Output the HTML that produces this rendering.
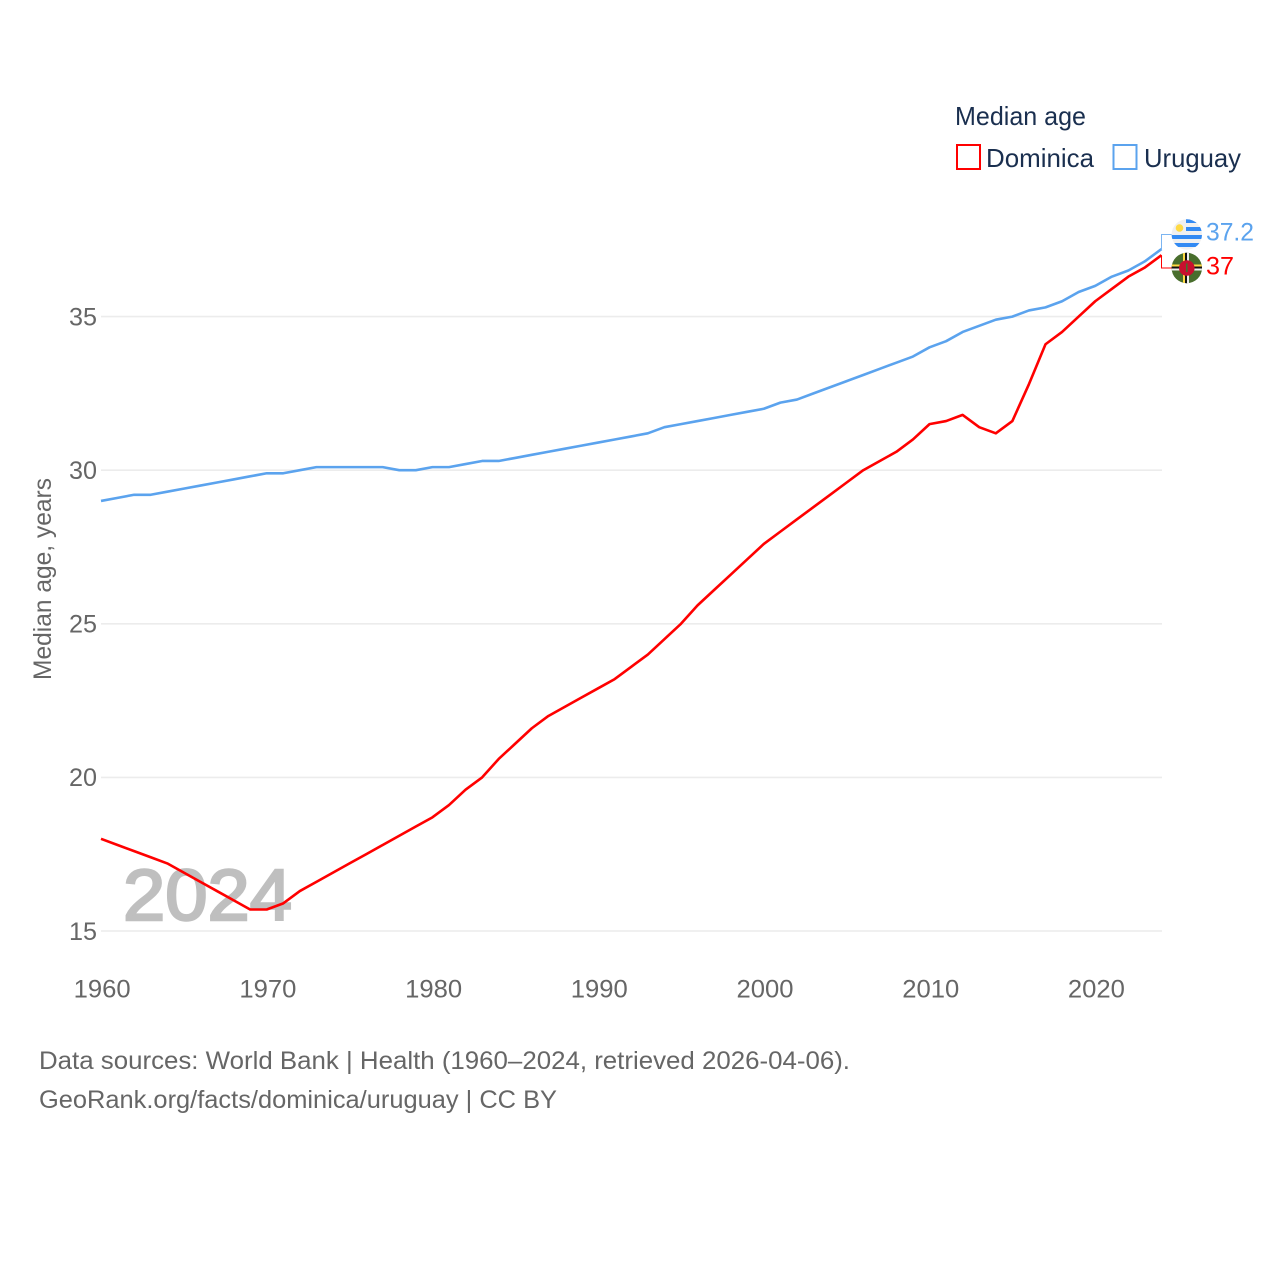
<!DOCTYPE html>
<html lang="en">
<head>
<meta charset="utf-8">
<title>Median age: Dominica and Uruguay</title>
<style>
html,body{margin:0;padding:0;background:#fff}
svg{display:block}
text{font-family:"Liberation Sans",sans-serif}
</style>
</head>
<body>
<svg id="chart" xmlns="http://www.w3.org/2000/svg" width="1280" height="1280" viewBox="0 0 1280 1280">
  <rect width="1280" height="1280" fill="#ffffff"/>
  <g id="grid"></g>
  <text x="123" y="920" font-size="72" fill="#bfbfbf" stroke="#bfbfbf" stroke-width="2.4" textLength="169" lengthAdjust="spacingAndGlyphs">2024</text>
  <g id="ticks"></g>
  <text transform="translate(51 680) rotate(-90)" font-size="25" fill="#666666" textLength="202" lengthAdjust="spacingAndGlyphs">Median age, years</text>
  <g id="series"></g>

  <g>
    <text x="955" y="125" font-size="26" fill="#1a2f4f" textLength="131" lengthAdjust="spacingAndGlyphs">Median age</text>
    <g>
      <rect x="957" y="145" width="23" height="24" fill="none" stroke="#ff0000" stroke-width="2"/>
      <text x="986" y="167" font-size="26" fill="#1a2f4f" textLength="108" lengthAdjust="spacingAndGlyphs">Dominica</text>
    </g>
    <g>
      <rect x="1113.5" y="145" width="23" height="24" fill="none" stroke="#5ba3ee" stroke-width="2"/>
      <text x="1144" y="167" font-size="26" fill="#1a2f4f" textLength="97" lengthAdjust="spacingAndGlyphs">Uruguay</text>
    </g>
  </g>

  <g id="endconnectors"></g>
  <defs>
    <clipPath id="clip-uy"><circle cx="1186.8" cy="234.5" r="15.2"/></clipPath>
    <clipPath id="clip-dm"><circle cx="1186.8" cy="268" r="15.2"/></clipPath>
  </defs>
  <g clip-path="url(#clip-uy)">
    <rect x="1171" y="219" width="32" height="31" fill="#f0f0f0"/>
    <rect x="1186" y="219" width="17" height="4" fill="#338af3"/>
    <rect x="1186" y="227" width="17" height="4" fill="#338af3"/>
    <rect x="1171" y="235" width="32" height="4" fill="#338af3"/>
    <rect x="1171" y="243" width="32" height="4" fill="#338af3"/>
    <circle cx="1179.5" cy="228" r="3.8" fill="#ffda44"/>
  </g>
  <g clip-path="url(#clip-dm)">
    <rect x="1171" y="252" width="32" height="32" fill="#496e2d"/>
    <rect x="1183" y="252" width="2" height="32" fill="#ffda44"/>
    <rect x="1185" y="252" width="2" height="32" fill="#111111"/>
    <rect x="1187" y="252" width="2" height="32" fill="#f0f0f0"/>
    <rect x="1171" y="264.5" width="32" height="2" fill="#ffda44"/>
    <rect x="1171" y="266.5" width="32" height="2" fill="#111111"/>
    <rect x="1171" y="268.5" width="32" height="2" fill="#f0f0f0"/>
    <circle cx="1186.8" cy="268" r="7.8" fill="#c8102e"/>
    <rect x="1186" y="263.5" width="1.6" height="8.5" fill="#496e2d"/>
  </g>
  <g id="endlabels"></g>

  <g>
    <text x="39" y="1069" font-size="25" fill="#666666" textLength="811" lengthAdjust="spacingAndGlyphs">Data sources: World Bank | Health (1960–2024, retrieved 2026-04-06).</text>
    <text x="39" y="1108" font-size="25" fill="#666666" textLength="518" lengthAdjust="spacingAndGlyphs">GeoRank.org/facts/dominica/uruguay | CC BY</text>
  </g>
</svg>
<script>
const startYear = 1960;
const yTicks = [15, 20, 25, 30, 35];
const xTicks = [1960, 1970, 1980, 1990, 2000, 2010, 2020];
const uruguayValues = [29.0,29.1,29.2,29.2,29.3,29.4,29.5,29.6,29.7,29.8,29.9,29.9,30.0,30.1,30.1,30.1,30.1,30.1,30.0,30.0,30.1,30.1,30.2,30.3,30.3,30.4,30.5,30.6,30.7,30.8,30.9,31.0,31.1,31.2,31.4,31.5,31.6,31.7,31.8,31.9,32.0,32.2,32.3,32.5,32.7,32.9,33.1,33.3,33.5,33.7,34.0,34.2,34.5,34.7,34.9,35.0,35.2,35.3,35.5,35.8,36.0,36.3,36.5,36.8,37.2];
const dominicaValues = [18.0,17.8,17.6,17.4,17.2,16.9,16.6,16.3,16.0,15.7,15.7,15.9,16.3,16.6,16.9,17.2,17.5,17.8,18.1,18.4,18.7,19.1,19.6,20.0,20.6,21.1,21.6,22.0,22.3,22.6,22.9,23.2,23.6,24.0,24.5,25.0,25.6,26.1,26.6,27.1,27.6,28.0,28.4,28.8,29.2,29.6,30.0,30.3,30.6,31.0,31.5,31.6,31.8,31.4,31.2,31.6,32.8,34.1,34.5,35.0,35.5,35.9,36.3,36.6,37.0];

const NS = 'http://www.w3.org/2000/svg';
const xScale = function (year) { return 101 + (year - 1960) * (1161.5 - 101) / 64; };
const yScale = function (v) { return 931 - (v - 15) * (931 - 316.6) / 20; };

function make(tag, attrs, text) {
  const el = document.createElementNS(NS, tag);
  Object.keys(attrs).forEach(function (k) { el.setAttribute(k, attrs[k]); });
  if (text !== undefined) el.textContent = text;
  return el;
}

const grid = document.getElementById('grid');
const ticks = document.getElementById('ticks');
yTicks.forEach(function (t) {
  const line = make('line', {x1: 101, x2: 1162, y1: yScale(t), y2: yScale(t), stroke: '#ececec', 'stroke-width': 1.6});
  
  
  grid.appendChild(line);
  const label = make('text', {x: 69, y: yScale(t) + 8.8, 'font-size': 25, fill: '#666666', textLength: 28, lengthAdjust: 'spacingAndGlyphs'}, String(t));
  
  
  ticks.appendChild(label);
});
xTicks.forEach(function (t) {
  const label = make('text', {x: xScale(t) - 27.3, y: 997.5, 'font-size': 25, fill: '#666666', textLength: 57, lengthAdjust: 'spacingAndGlyphs'}, String(t));
  
  
  ticks.appendChild(label);
});

function linePath(values) {
  return values.map(function (v, i) {
    return (i ? 'L' : 'M') + xScale(startYear + i).toFixed(2) + ' ' + yScale(v).toFixed(2);
  }).join(' ');
}

const series = document.getElementById('series');
const uruguayLine = make('path', {d: linePath(uruguayValues), fill: 'none', stroke: '#5ba3ee', 'stroke-width': 2.6, 'stroke-linejoin': 'round'});


series.appendChild(uruguayLine);
const dominicaLine = make('path', {d: linePath(dominicaValues), fill: 'none', stroke: '#ff0000', 'stroke-width': 2.6, 'stroke-linejoin': 'round'});


series.appendChild(dominicaLine);

const endConnectors = document.getElementById('endconnectors');
const endLabels = document.getElementById('endlabels');
const lastU = uruguayValues[uruguayValues.length - 1];
const lastD = dominicaValues[dominicaValues.length - 1];
const connU = make('polyline', {points: '1161.5,' + yScale(lastU) + ' 1161.5,234.5 1174,234.5', fill: 'none', stroke: '#5ba3ee', 'stroke-width': 1, opacity: 0.8});


endConnectors.appendChild(connU);
const connD = make('polyline', {points: '1161.5,' + yScale(lastD) + ' 1161.5,268 1174,268', fill: 'none', stroke: '#ff0000', 'stroke-width': 1});


endConnectors.appendChild(connD);
const valU = make('text', {x: 1206, y: 240.5, 'font-size': 25, fill: '#5ba3ee', textLength: 48, lengthAdjust: 'spacingAndGlyphs'}, String(lastU));


endLabels.appendChild(valU);
const valD = make('text', {x: 1206, y: 274.5, 'font-size': 25, fill: '#ff0000', textLength: 28, lengthAdjust: 'spacingAndGlyphs'}, String(lastD));


endLabels.appendChild(valD);
</script>
</body>
</html>
